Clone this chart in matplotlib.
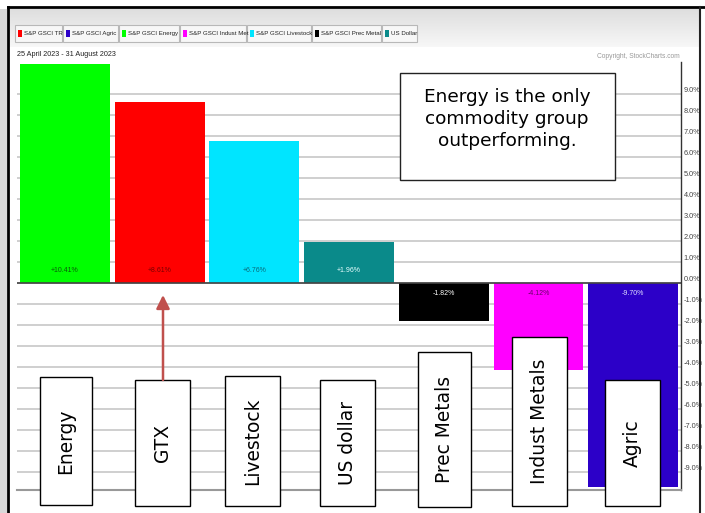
import matplotlib.pyplot as plt
from matplotlib.patches import Rectangle, FancyArrowPatch
import numpy as np

# données (performance 25 avril - 31 août 2023)
groups = ['Energy', 'GTX', 'Livestock', 'US dollar', 'Prec Metals', 'Indust Metals', 'Agric']
changes = [10.41, 8.61, 6.76, 1.96, -1.82, -4.12, -9.70]
value_labels = ['+10.41%', '+8.61%', '+6.76%', '+1.96%', '-1.82%', '-4.12%', '-9.70%']
bar_colors = ['#00ff00', '#ff0000', '#00e5ff', '#0a8a8a', '#000000', '#ff00ff', '#2c00c8']
label_colors = ['#0a5a0a', '#7a0000', '#0a6a7a', '#e8ffff', '#ffffff', '#6a006a', '#e0e0ff']
legend_names = ['S&P GSCI TR', 'S&P GSCI Agric', 'S&P GSCI Energy', 'S&P GSCI Indust Met',
                'S&P GSCI Livestock', 'S&P GSCI Prec Metal', 'US Dollar']
legend_colors = ['#ff0000', '#2c00c8', '#00ff00', '#ff00ff', '#00e5ff', '#000000', '#0a8a8a']
yticks = np.arange(-9, 10)

W, H = 705, 513
narrow = ['Liberation Sans Narrow', 'Liberation Sans', 'DejaVu Sans']


def fx(px):
    return px / W


def fy(py):
    return 1 - py / H


fig = plt.figure(figsize=(W / 100, H / 100), dpi=100)
fig.patch.set_facecolor('white')

# === Bandeau gris du haut ===
hdr = fig.add_axes([fx(9), fy(47), fx(690), 38 / H])
grad = np.linspace(0.87, 0.97, 50).reshape(-1, 1)
hdr.imshow(np.dstack([grad, grad, grad]), aspect='auto', extent=[0, 1, 0, 1])
hdr.axis('off')

# === Légende ===
legend_x = [15, 63, 119, 180, 247, 312, 382, 418]
for i, (name, col) in enumerate(zip(legend_names, legend_colors)):
    x0, x1 = legend_x[i], legend_x[i + 1] - 1
    fig.patches.append(Rectangle((fx(x0), fy(42)), fx(x1 - x0), 17 / H, transform=fig.transFigure,
                                 facecolor='#f7f7f7', edgecolor='#b8b8b8', lw=0.8))
    fig.patches.append(Rectangle((fx(x0 + 3), fy(37)), fx(4), 7 / H, transform=fig.transFigure,
                                 facecolor=col, edgecolor='none'))
    fig.text(fx(x0 + 9), fy(33.5), name, fontsize=4.4, family=narrow, color='#222222', va='center')

fig.text(fx(17), fy(55), '25 April 2023 - 31 August 2023', fontsize=5.2, family=narrow,
         color='#222222', va='center')
fig.text(fx(680), fy(57), 'Copyright, StockCharts.com', fontsize=4.8, family=narrow,
         color='#999999', va='center', ha='right')

# === Graphique principal ===
ax = fig.add_axes([fx(17), fy(490), fx(664), 428 / H])
x = np.arange(len(groups))
ax.bar(x, changes, width=0.95, color=bar_colors, zorder=2)
ax.set_xlim(-0.507, 6.505)
ax.set_ylim(-9.857, 10.524)

for xi, v, lab, c in zip(x, changes, value_labels, label_colors):
    ax.text(xi, 0.6 if v > 0 else -0.5, lab, ha='center', va='center',
            fontsize=5, family=narrow, color=c, zorder=4)

ax.set_yticks(yticks)
ax.set_yticklabels([f'{t:.1f}%' for t in yticks])
ax.yaxis.tick_right()
ax.tick_params(axis='y', length=0, pad=2, labelsize=5.3, labelcolor='#444444')
for lbl in ax.get_yticklabels():
    lbl.set_va('bottom')
    lbl.set_family(narrow)
ax.set_xticks([])
ax.grid(axis='y', color='#cccccc', lw=1.3)
ax.set_axisbelow(True)
ax.axhline(0, color='#444444', lw=1.2, zorder=3)

for side in ['top', 'left']:
    ax.spines[side].set_visible(False)
ax.spines['right'].set_color('#333333')
ax.spines['right'].set_linewidth(1)
ax.spines['bottom'].set_color('#999999')
ax.spines['bottom'].set_linewidth(1.5)

# === Boîtes des catégories ===
boxes = [(40, 92, 377, 505), (135, 190, 380, 506), (225, 280, 376, 506), (320, 375, 380, 506),
         (418, 471, 352, 507), (512, 567, 337, 506), (605, 660, 380, 506)]
for name, (l, r, t, b) in zip(groups, boxes):
    fig.patches.append(Rectangle((fx(l), fy(b)), fx(r - l), (b - t) / H, transform=fig.transFigure,
                                 facecolor='white', edgecolor='black', lw=1, zorder=5))
    fig.text(fx((l + r) / 2), fy((t + b) / 2), name, rotation=90, ha='center', va='center',
             fontsize=13.4, color='black', zorder=6)

# Flèche vers GTX
fig.patches.append(FancyArrowPatch((fx(163), fy(380)), (fx(163), fy(295)), transform=fig.transFigure,
                                   arrowstyle='-|>', mutation_scale=20, color='#c0504d', lw=1.8,
                                   shrinkA=0, shrinkB=0, zorder=5))

# Encadré de commentaire
fig.patches.append(Rectangle((fx(400), fy(180)), fx(215), 107 / H, transform=fig.transFigure,
                             facecolor='white', edgecolor='#222222', lw=1, zorder=5))
fig.text(fx(507), fy(119), 'Energy is the only\ncommodity group\noutperforming.', ha='center',
         va='center', fontsize=13.3, linespacing=1.3, color='black', zorder=6)

# === Cadre noir ===
fig.add_artist(plt.Line2D([fx(8), 1], [fy(7), fy(7)], color='black', lw=2))
fig.add_artist(plt.Line2D([fx(8), fx(8)], [0, fy(7)], color='black', lw=2))
fig.add_artist(plt.Line2D([fx(700), fx(700)], [0, fy(7)], color='#222222', lw=1.5))
fig.patches.append(Rectangle((0, 0), fx(7), fy(9), transform=fig.transFigure,
                             facecolor='#d8d8d8', edgecolor='none'))

plt.savefig('out.png', dpi=100, facecolor='white')
plt.close()
